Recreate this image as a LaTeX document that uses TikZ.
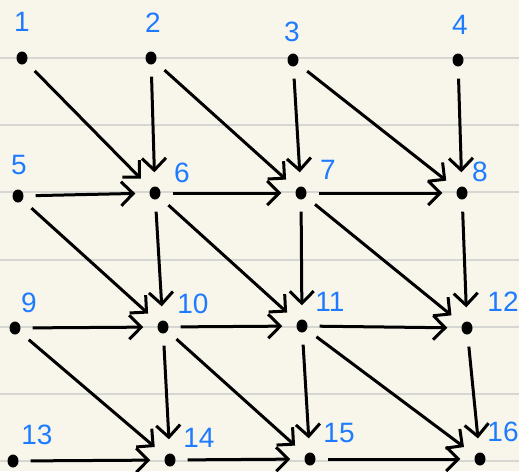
\documentclass[tikz,border=0pt]{standalone}
\usepackage{fontspec}
\setmainfont{Liberation Sans}
\usetikzlibrary{arrows.meta,shapes.geometric}
\definecolor{paper}{HTML}{F8F6EA}
\definecolor{rule}{HTML}{D6D6D2}
\definecolor{lab}{HTML}{1E7BFF}
\tikzset{
  dot/.style={ellipse,fill=black,inner sep=0pt,minimum width=11pt,minimum height=13pt},
  lbl/.style={text=lab,font=\fontsize{28}{28}\selectfont,inner sep=0pt},
  arr/.style={line width=3pt,-{Straight Barb[length=12pt,width=24pt,line width=3pt]},shorten <=12pt,shorten >=14pt},
  ruleline/.style={rule,line width=2.4pt}
}
\begin{document}
\begin{tikzpicture}[x=1pt,y=-1pt]
\useasboundingbox (0,0) rectangle (519,471);
\fill[paper] (0,0) rectangle (519,471);
\foreach \y in {58,125,192,260,327,394,461} \draw[ruleline] (0,\y) -- (519,\y);
% nodes
\node[dot] (n1) at (22,58) {};
\node[dot] (n2) at (151,58) {};
\node[dot] (n3) at (293,60) {};
\node[dot] (n4) at (458,60) {};
\node[dot] (n5) at (18,196) {};
\node[dot] (n6) at (155,193) {};
\node[dot] (n7) at (301,193) {};
\node[dot] (n8) at (462,193) {};
\node[dot] (n9) at (15,328) {};
\node[dot] (n10) at (163,327) {};
\node[dot] (n11) at (302,326) {};
\node[dot] (n12) at (467,328) {};
\node[dot] (n13) at (13,461) {};
\node[dot] (n14) at (170,460) {};
\node[dot] (n15) at (310,459) {};
\node[dot] (n16) at (480,459) {};
% labels
\node[lbl] (l1) at (22,22) {1};
\node[lbl] (l2) at (153,23) {2};
\node[lbl] (l3) at (292,32) {3};
\node[lbl] (l4) at (460,25) {4};
\node[lbl] (l5) at (19,165) {5};
\node[lbl] (l6) at (182,173) {6};
\node[lbl] (l7) at (328,170) {7};
\node[lbl] (l8) at (480,172) {8};
\node[lbl] (l9) at (29,303) {9};
\node[lbl] (l10) at (193,304) {10};
\node[lbl] (l11) at (330,302) {11};
\node[lbl] (l12) at (503,302) {12};
\node[lbl] (l13) at (37,435) {13};
\node[lbl] (l14) at (199,438) {14};
\node[lbl] (l15) at (339,433) {15};
\node[lbl] (l16) at (503,432) {16};
% connectors
\foreach \a/\b in {2/6,3/7,4/8,6/10,7/11,8/12,10/14,11/15,12/16,
                   5/6,6/7,7/8,9/10,10/11,11/12,13/14,14/15,15/16,
                   1/6,2/7,3/8,5/10,6/11,7/12,9/14,10/15,11/16}
  \draw[arr] (n\a) -- (n\b);
\end{tikzpicture}
\end{document}
